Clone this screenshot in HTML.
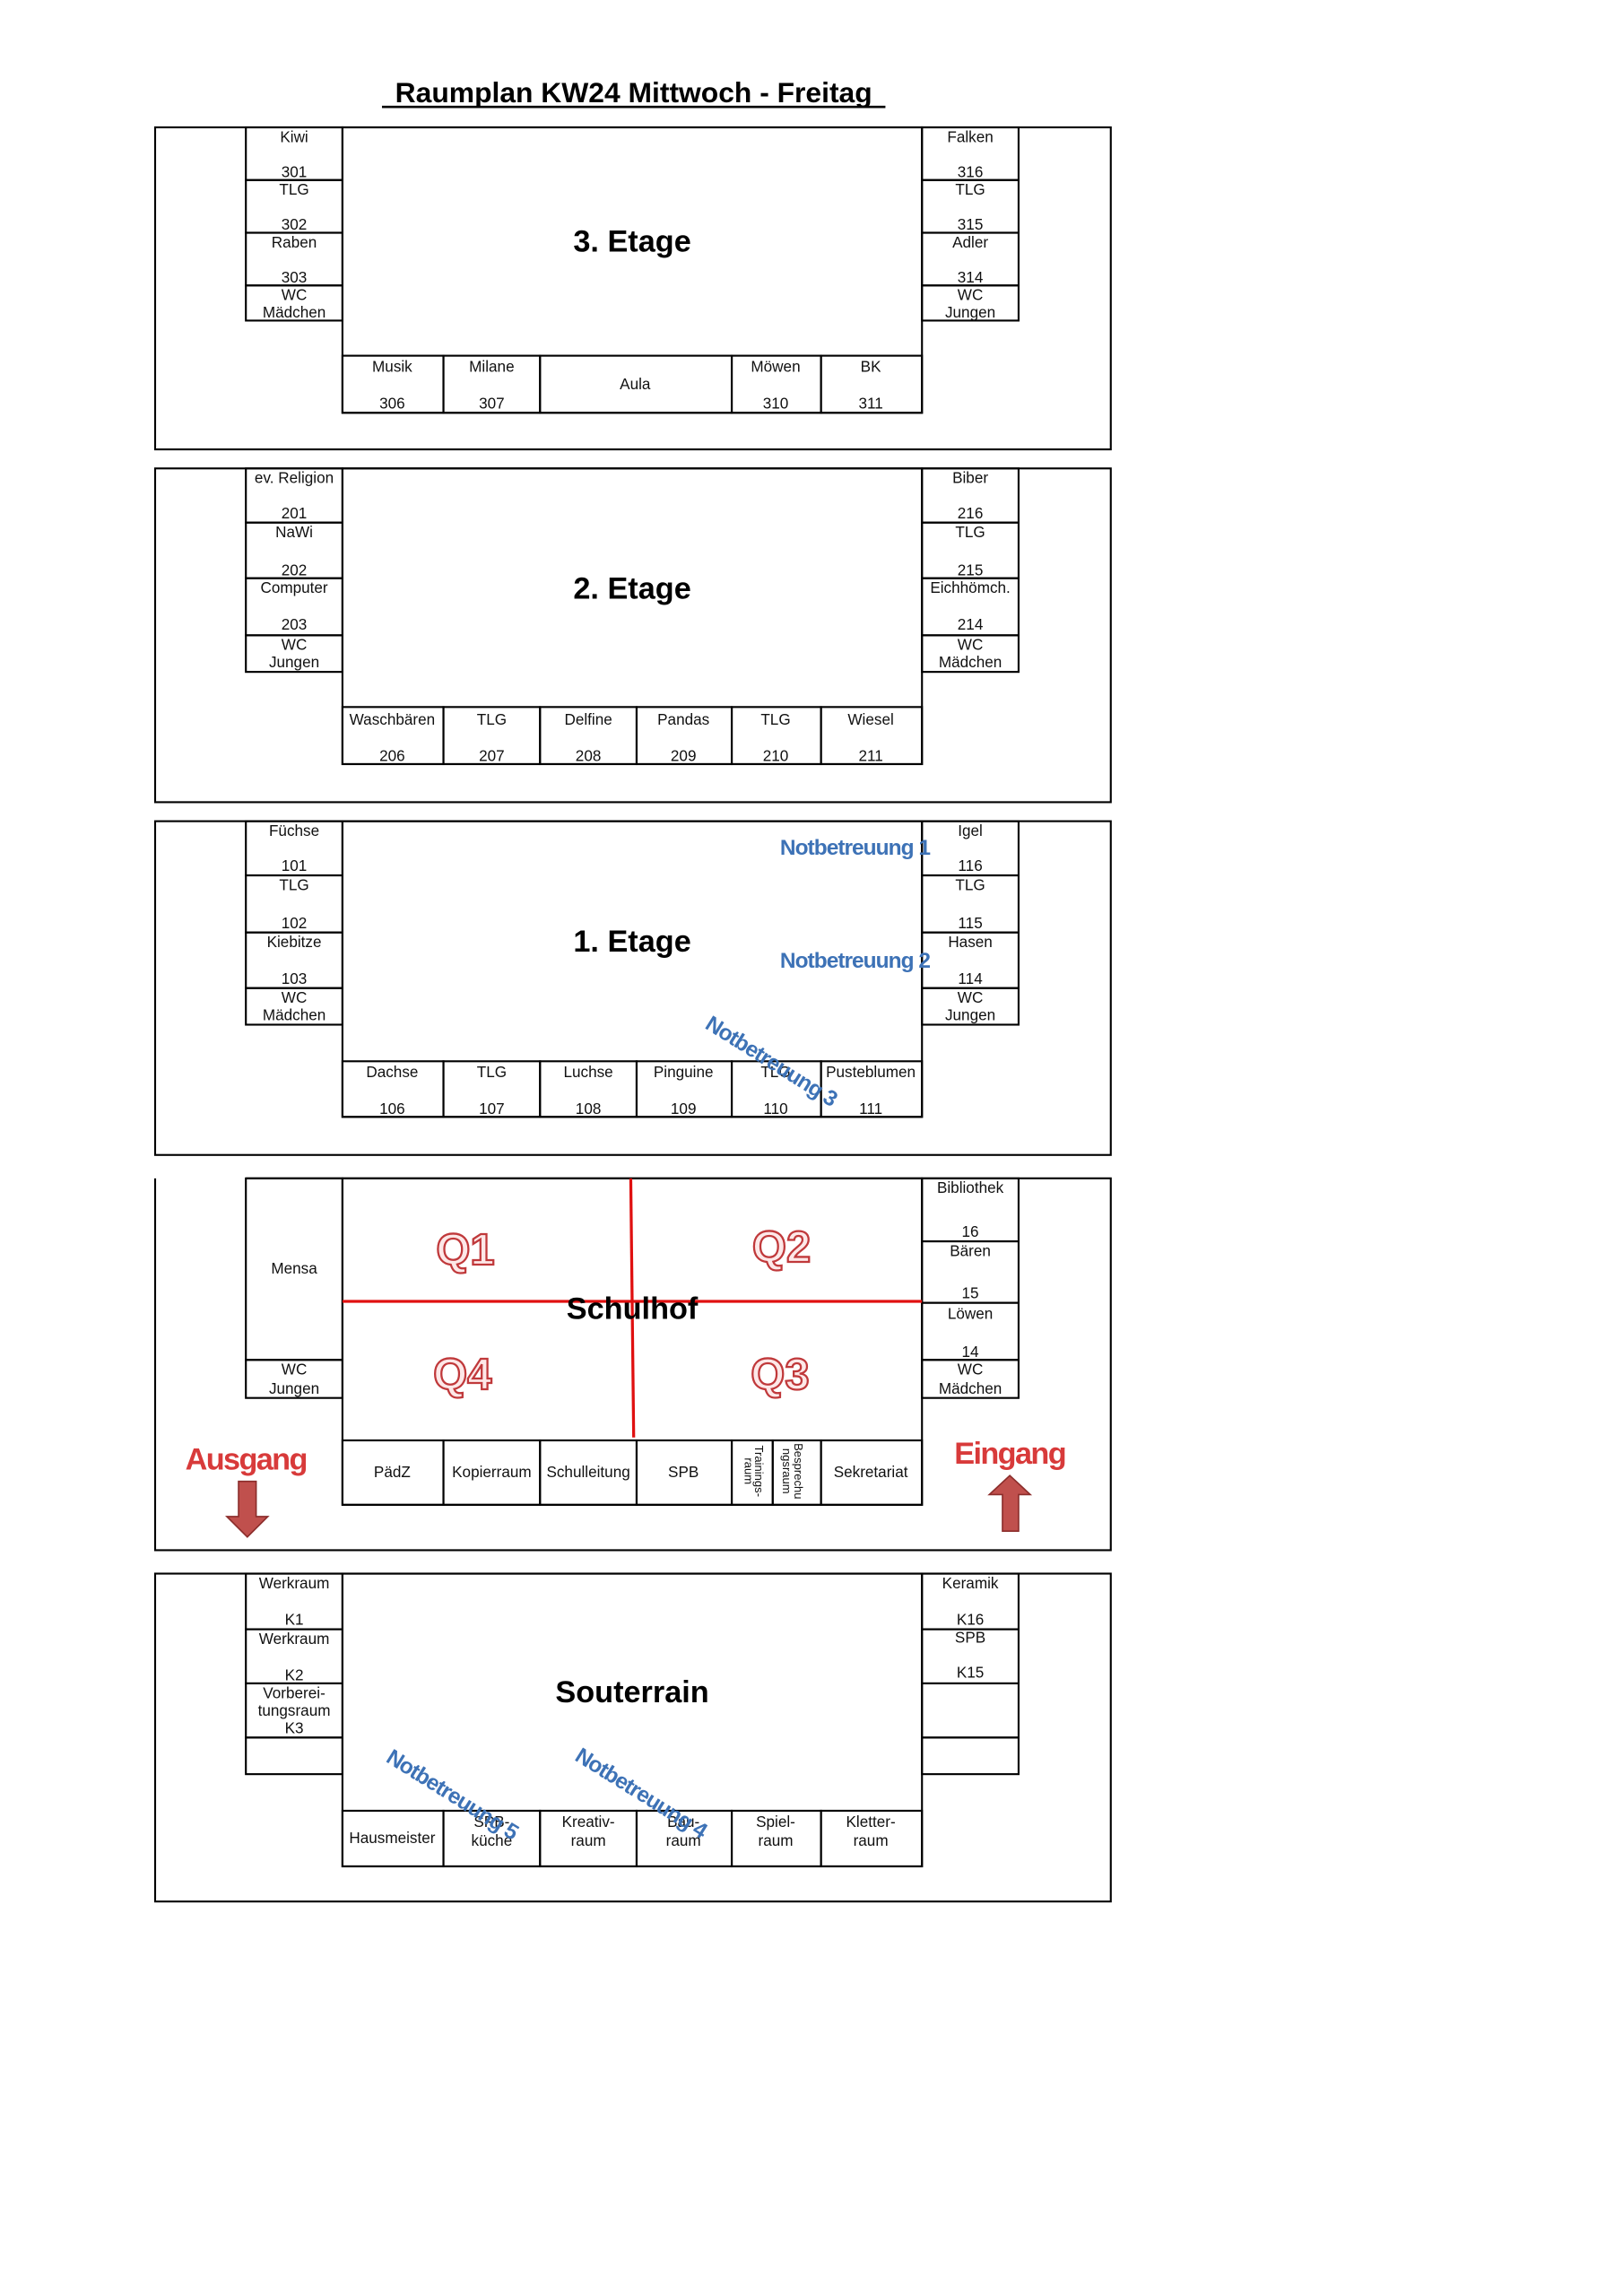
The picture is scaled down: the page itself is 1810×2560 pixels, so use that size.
<!DOCTYPE html>
<html><head><meta charset="utf-8"><style>
html,body{margin:0;padding:0;background:#fff;}
svg{display:block}
.r{fill:none;stroke:#000;stroke-width:1.3}
.t{font-family:"Liberation Sans",Arial,sans-serif;font-size:10.5px;text-anchor:middle;fill:#111}
.b{font-family:"Liberation Sans",Arial,sans-serif;font-weight:bold;font-size:21px;text-anchor:middle;fill:#000}
.n{font-family:"Liberation Sans",sans-serif;font-weight:bold;font-size:15px;fill:#3d72b6;letter-spacing:-0.6px}
.q{font-family:"Liberation Sans",sans-serif;font-weight:bold;font-size:30px;text-anchor:middle;fill:#fde8e8;stroke:#c0393b;stroke-width:1.4}
.red{font-family:"Liberation Sans",sans-serif;font-weight:bold;font-size:21px;text-anchor:middle;fill:#d83a3a;letter-spacing:-1px}
</style></head><body>
<svg width="1810" height="2560" viewBox="0 0 1109 1568.5" preserveAspectRatio="none" xmlns="http://www.w3.org/2000/svg">
<text x="433" y="70" class="b" style="font-size:19.5px">Raumplan KW24 Mittwoch - Freitag</text>
<line x1="261" y1="73" x2="605" y2="73" stroke="#000" stroke-width="1.6"/>

<!-- 3. Etage -->
<rect class="r" x="106" y="87" width="653" height="220"/>
<rect class="r" x="168" y="87" width="66" height="36"/><text class="t" x="201" y="97">Kiwi</text><text class="t" x="201" y="121">301</text>
<rect class="r" x="168" y="123" width="66" height="36"/><text class="t" x="201" y="133">TLG</text><text class="t" x="201" y="157">302</text>
<rect class="r" x="168" y="159" width="66" height="36"/><text class="t" x="201" y="169">Raben</text><text class="t" x="201" y="193">303</text>
<rect class="r" x="168" y="195" width="66" height="24"/><text class="t" x="201" y="205">WC</text><text class="t" x="201" y="217">Mädchen</text>
<rect class="r" x="630" y="87" width="66" height="36"/><text class="t" x="663" y="97">Falken</text><text class="t" x="663" y="121">316</text>
<rect class="r" x="630" y="123" width="66" height="36"/><text class="t" x="663" y="133">TLG</text><text class="t" x="663" y="157">315</text>
<rect class="r" x="630" y="159" width="66" height="36"/><text class="t" x="663" y="169">Adler</text><text class="t" x="663" y="193">314</text>
<rect class="r" x="630" y="195" width="66" height="24"/><text class="t" x="663" y="205">WC</text><text class="t" x="663" y="217">Jungen</text>
<rect class="r" x="234" y="87" width="396" height="195"/>
<rect class="r" x="234" y="243" width="69" height="39"/><text class="t" x="268" y="254">Musik</text><text class="t" x="268" y="279">306</text>
<rect class="r" x="303" y="243" width="66" height="39"/><text class="t" x="336" y="254">Milane</text><text class="t" x="336" y="279">307</text>
<rect class="r" x="369" y="243" width="131" height="39"/><text class="t" x="434" y="266">Aula</text>
<rect class="r" x="500" y="243" width="61" height="39"/><text class="t" x="530" y="254">Möwen</text><text class="t" x="530" y="279">310</text>
<rect class="r" x="561" y="243" width="69" height="39"/><text class="t" x="595" y="254">BK</text><text class="t" x="595" y="279">311</text>
<text class="b" x="432" y="172">3. Etage</text>

<!-- 2. Etage -->
<rect class="r" x="106" y="320" width="653" height="228"/>
<rect class="r" x="168" y="320" width="66" height="37"/><text class="t" x="201" y="330">ev. Religion</text><text class="t" x="201" y="354">201</text>
<rect class="r" x="168" y="357" width="66" height="38"/><text class="t" x="201" y="367">NaWi</text><text class="t" x="201" y="393">202</text>
<rect class="r" x="168" y="395" width="66" height="39"/><text class="t" x="201" y="405">Computer</text><text class="t" x="201" y="430">203</text>
<rect class="r" x="168" y="434" width="66" height="25"/><text class="t" x="201" y="444">WC</text><text class="t" x="201" y="456">Jungen</text>
<rect class="r" x="630" y="320" width="66" height="37"/><text class="t" x="663" y="330">Biber</text><text class="t" x="663" y="354">216</text>
<rect class="r" x="630" y="357" width="66" height="38"/><text class="t" x="663" y="367">TLG</text><text class="t" x="663" y="393">215</text>
<rect class="r" x="630" y="395" width="66" height="39"/><text class="t" x="663" y="405">Eichhömch.</text><text class="t" x="663" y="430">214</text>
<rect class="r" x="630" y="434" width="66" height="25"/><text class="t" x="663" y="444">WC</text><text class="t" x="663" y="456">Mädchen</text>
<rect class="r" x="234" y="320" width="396" height="202"/>
<rect class="r" x="234" y="483" width="69" height="39"/><text class="t" x="268" y="495">Waschbären</text><text class="t" x="268" y="520">206</text>
<rect class="r" x="303" y="483" width="66" height="39"/><text class="t" x="336" y="495">TLG</text><text class="t" x="336" y="520">207</text>
<rect class="r" x="369" y="483" width="66" height="39"/><text class="t" x="402" y="495">Delfine</text><text class="t" x="402" y="520">208</text>
<rect class="r" x="435" y="483" width="65" height="39"/><text class="t" x="467" y="495">Pandas</text><text class="t" x="467" y="520">209</text>
<rect class="r" x="500" y="483" width="61" height="39"/><text class="t" x="530" y="495">TLG</text><text class="t" x="530" y="520">210</text>
<rect class="r" x="561" y="483" width="69" height="39"/><text class="t" x="595" y="495">Wiesel</text><text class="t" x="595" y="520">211</text>
<text class="b" x="432" y="409">2. Etage</text>

<!-- 1. Etage -->
<rect class="r" x="106" y="561" width="653" height="228"/>
<rect class="r" x="168" y="561" width="66" height="37"/><text class="t" x="201" y="571">Füchse</text><text class="t" x="201" y="595">101</text>
<rect class="r" x="168" y="598" width="66" height="39"/><text class="t" x="201" y="608">TLG</text><text class="t" x="201" y="634">102</text>
<rect class="r" x="168" y="637" width="66" height="38"/><text class="t" x="201" y="647">Kiebitze</text><text class="t" x="201" y="672">103</text>
<rect class="r" x="168" y="675" width="66" height="25"/><text class="t" x="201" y="685">WC</text><text class="t" x="201" y="697">Mädchen</text>
<rect class="r" x="630" y="561" width="66" height="37"/><text class="t" x="663" y="571">Igel</text><text class="t" x="663" y="595">116</text>
<rect class="r" x="630" y="598" width="66" height="39"/><text class="t" x="663" y="608">TLG</text><text class="t" x="663" y="634">115</text>
<rect class="r" x="630" y="637" width="66" height="38"/><text class="t" x="663" y="647">Hasen</text><text class="t" x="663" y="672">114</text>
<rect class="r" x="630" y="675" width="66" height="25"/><text class="t" x="663" y="685">WC</text><text class="t" x="663" y="697">Jungen</text>
<rect class="r" x="234" y="561" width="396" height="202"/>
<rect class="r" x="234" y="725" width="69" height="38"/><text class="t" x="268" y="736">Dachse</text><text class="t" x="268" y="761">106</text>
<rect class="r" x="303" y="725" width="66" height="38"/><text class="t" x="336" y="736">TLG</text><text class="t" x="336" y="761">107</text>
<rect class="r" x="369" y="725" width="66" height="38"/><text class="t" x="402" y="736">Luchse</text><text class="t" x="402" y="761">108</text>
<rect class="r" x="435" y="725" width="65" height="38"/><text class="t" x="467" y="736">Pinguine</text><text class="t" x="467" y="761">109</text>
<rect class="r" x="500" y="725" width="61" height="38"/><text class="t" x="530" y="736">TLG</text><text class="t" x="530" y="761">110</text>
<rect class="r" x="561" y="725" width="69" height="38"/><text class="t" x="595" y="736">Pusteblumen</text><text class="t" x="595" y="761">111</text>
<text class="b" x="432" y="650">1. Etage</text>
<text class="n" x="533" y="584">Notbetreuung 1</text>
<text class="n" x="533" y="661">Notbetreuung 2</text>
<text class="n" transform="translate(481,702) rotate(32)">Notbetreuung 3</text>

<!-- Erdgeschoss -->
<path class="r" d="M168 805 H759 V1059 H106 V805"/>
<rect class="r" x="168" y="805" width="66" height="124"/><text class="t" x="201" y="870">Mensa</text>
<rect class="r" x="168" y="929" width="66" height="26"/><text class="t" x="201" y="939">WC</text><text class="t" x="201" y="952">Jungen</text>
<rect class="r" x="630" y="805" width="66" height="43"/><text class="t" x="663" y="815">Bibliothek</text><text class="t" x="663" y="845">16</text>
<rect class="r" x="630" y="848" width="66" height="42"/><text class="t" x="663" y="858">Bären</text><text class="t" x="663" y="887">15</text>
<rect class="r" x="630" y="890" width="66" height="39"/><text class="t" x="663" y="901">Löwen</text><text class="t" x="663" y="927">14</text>
<rect class="r" x="630" y="929" width="66" height="26"/><text class="t" x="663" y="939">WC</text><text class="t" x="663" y="952">Mädchen</text>
<rect class="r" x="234" y="805" width="396" height="223"/>
<rect class="r" x="234" y="984" width="69" height="44"/><text class="t" x="268" y="1009">PädZ</text>
<rect class="r" x="303" y="984" width="66" height="44"/><text class="t" x="336" y="1009">Kopierraum</text>
<rect class="r" x="369" y="984" width="66" height="44"/><text class="t" x="402" y="1009">Schulleitung</text>
<rect class="r" x="435" y="984" width="65" height="44"/><text class="t" x="467" y="1009">SPB</text>
<rect class="r" x="500" y="984" width="28" height="44"/>
<text class="t" style="font-size:8px" transform="translate(516,1005) rotate(90)">Trainings-</text>
<text class="t" style="font-size:8px" transform="translate(509,1005) rotate(90)">raum</text>
<rect class="r" x="528" y="984" width="33" height="44"/>
<text class="t" style="font-size:8px" transform="translate(543,1005) rotate(90)">Besprechu</text>
<text class="t" style="font-size:8px" transform="translate(535,1005) rotate(90)">ngsraum</text>
<rect class="r" x="561" y="984" width="69" height="44"/><text class="t" x="595" y="1009">Sekretariat</text>
<line x1="234" y1="889" x2="630" y2="889" stroke="#e01010" stroke-width="2"/>
<line x1="431" y1="805" x2="433" y2="982" stroke="#e01010" stroke-width="2"/>
<text class="b" x="432" y="901">Schulhof</text>
<text class="q" x="318" y="864">Q1</text>
<text class="q" x="534" y="862">Q2</text>
<text class="q" x="316" y="949">Q4</text>
<text class="q" x="533" y="949">Q3</text>
<text class="red" x="168" y="1004">Ausgang</text>
<text class="red" x="690" y="1000">Eingang</text>
<path d="M163 1012 H175 V1036 H183 L169 1050 L155 1036 H163 Z" fill="#c0504d" stroke="#8b2d2b" stroke-width="1"/>
<path d="M685 1046 H696 V1021 H704 L690 1008 L676 1021 H685 Z" fill="#c0504d" stroke="#8b2d2b" stroke-width="1"/>

<!-- Souterrain -->
<rect class="r" x="106" y="1075" width="653" height="224"/>
<rect class="r" x="168" y="1075" width="66" height="38"/><text class="t" x="201" y="1085">Werkraum</text><text class="t" x="201" y="1110">K1</text>
<rect class="r" x="168" y="1113" width="66" height="37"/><text class="t" x="201" y="1123">Werkraum</text><text class="t" x="201" y="1148">K2</text>
<rect class="r" x="168" y="1150" width="66" height="37"/><text class="t" x="201" y="1160">Vorberei-</text><text class="t" x="201" y="1172">tungsraum</text><text class="t" x="201" y="1184">K3</text>
<rect class="r" x="168" y="1187" width="66" height="25"/>
<rect class="r" x="630" y="1075" width="66" height="38"/><text class="t" x="663" y="1085">Keramik</text><text class="t" x="663" y="1110">K16</text>
<rect class="r" x="630" y="1113" width="66" height="37"/><text class="t" x="663" y="1122">SPB</text><text class="t" x="663" y="1146">K15</text>
<rect class="r" x="630" y="1150" width="66" height="37"/>
<rect class="r" x="630" y="1187" width="66" height="25"/>
<rect class="r" x="234" y="1075" width="396" height="200"/>
<rect class="r" x="234" y="1237" width="69" height="38"/><text class="t" x="268" y="1259">Hausmeister</text>
<rect class="r" x="303" y="1237" width="66" height="38"/><text class="t" x="336" y="1248">SPB-</text><text class="t" x="336" y="1261">küche</text>
<rect class="r" x="369" y="1237" width="66" height="38"/><text class="t" x="402" y="1248">Kreativ-</text><text class="t" x="402" y="1261">raum</text>
<rect class="r" x="435" y="1237" width="65" height="38"/><text class="t" x="467" y="1248">Bau-</text><text class="t" x="467" y="1261">raum</text>
<rect class="r" x="500" y="1237" width="61" height="38"/><text class="t" x="530" y="1248">Spiel-</text><text class="t" x="530" y="1261">raum</text>
<rect class="r" x="561" y="1237" width="69" height="38"/><text class="t" x="595" y="1248">Kletter-</text><text class="t" x="595" y="1261">raum</text>
<text class="b" x="432" y="1163">Souterrain</text>
<text class="n" transform="translate(263,1203) rotate(32)">Notbetreuung 5</text>
<text class="n" transform="translate(392,1202) rotate(32)">Notbetreuung 4</text>
</svg>
</body></html>
